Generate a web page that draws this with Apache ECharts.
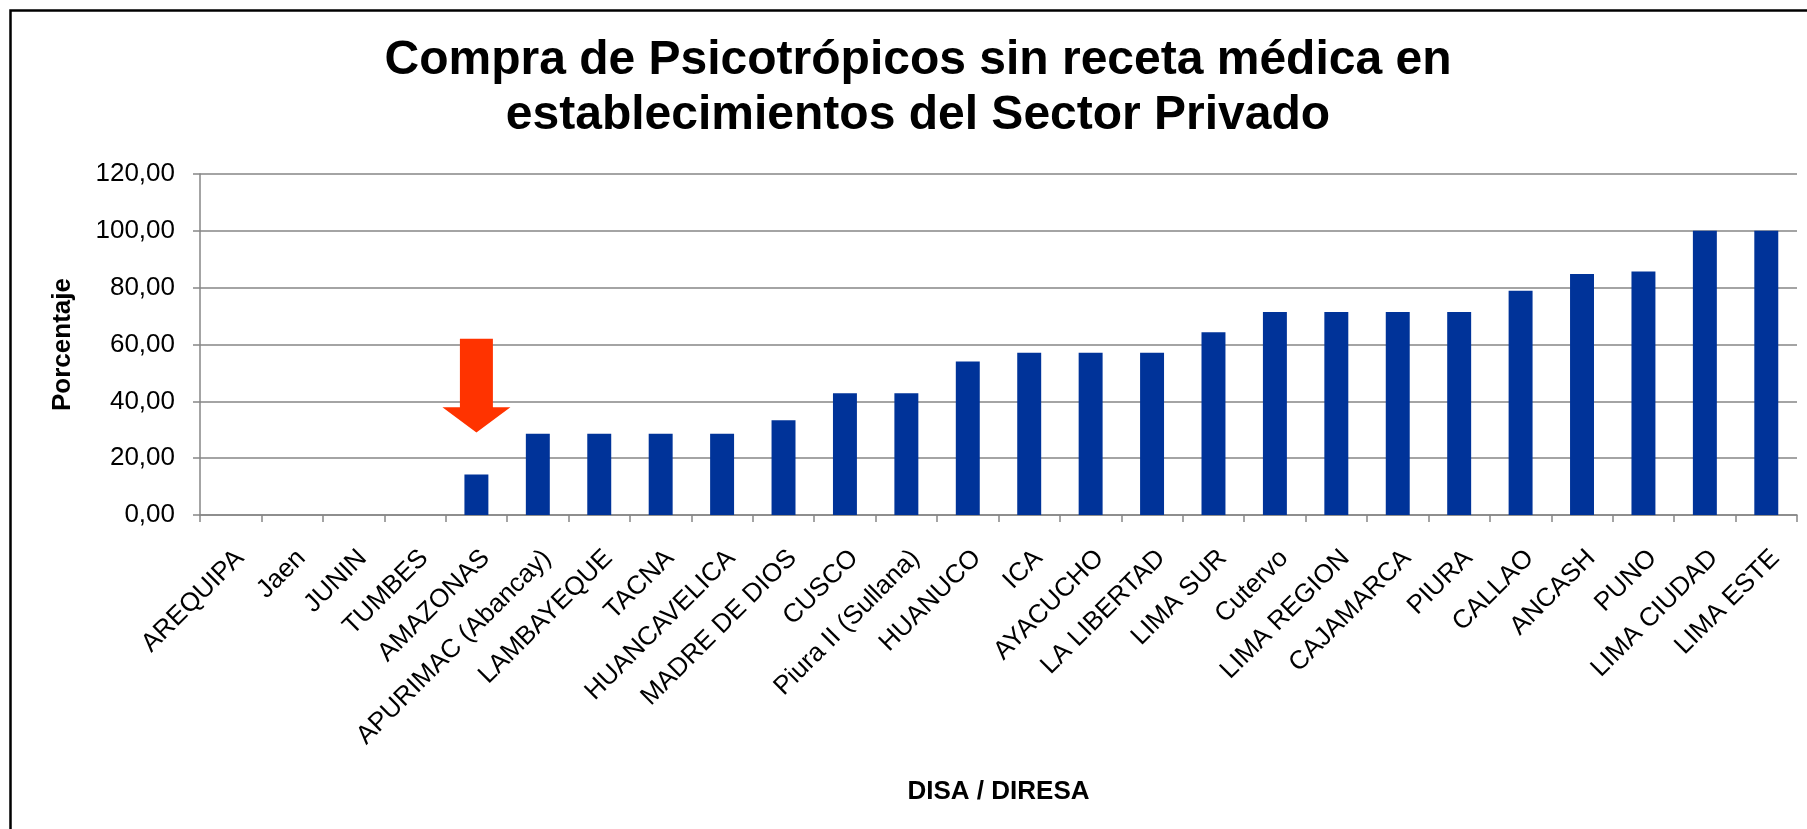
<!DOCTYPE html>
<html>
<head>
<meta charset="utf-8">
<title>Compra de Psicotrópicos sin receta médica</title>
<script src="https://cdn.jsdelivr.net/npm/echarts@6/dist/echarts.min.js"></script>
<style>
html, body { margin: 0; padding: 0; background: #fff; }
#chart { width: 1807px; height: 829px; }
</style>
</head>
<body>
<div id="chart"></div>
<script>
// categorias (DISA / DIRESA)
var regiones = ['AREQUIPA', 'Jaen', 'JUNIN', 'TUMBES', 'AMAZONAS', 'APURIMAC (Abancay)',
    'LAMBAYEQUE', 'TACNA', 'HUANCAVELICA', 'MADRE DE DIOS', 'CUSCO', 'Piura II (Sullana)',
    'HUANUCO', 'ICA', 'AYACUCHO', 'LA LIBERTAD', 'LIMA SUR', 'Cutervo', 'LIMA REGION',
    'CAJAMARCA', 'PIURA', 'CALLAO', 'ANCASH', 'PUNO', 'LIMA CIUDAD', 'LIMA ESTE']
// porcentaje de compra sin receta
var porcentajes = [0, 0, 0, 0, 14.29, 28.57,
    28.57, 28.57, 28.57, 33.33, 42.86, 42.86,
    54.05, 57.14, 57.14, 57.14, 64.29, 71.43, 71.43,
    71.43, 71.43, 78.95, 84.85, 85.71, 100, 100]
var ejeY = [0, 20, 40, 60, 80, 100, 120]
// flecha: categoria, valor superior, valor de la punta
var flecha = ['AMAZONAS', 62, 29]

var fuente = 'Liberation Sans, Arial, sans-serif'
var gris = '#868686'

var chart = echarts.init(document.getElementById('chart'))

var options = {
    backgroundColor: '#fff',
    animation: false,
    title: {
        text: 'Compra de Psicotrópicos sin receta médica en\nestablecimientos del Sector Privado',
        left: 918,
        top: 33,
        padding: 0,
        textAlign: 'center',
        textStyle: {
            fontFamily: fuente,
            fontSize: 48,
            fontWeight: 'bold',
            color: '#000',
            lineHeight: 55
        }
    },
    graphic: [{
        type: 'rect',
        shape: { x: 10.5, y: 10.5, width: 1900, height: 900 },
        style: { fill: 'none', stroke: '#000', lineWidth: 2.5 },
        silent: true
    }],
    grid: {
        left: 200,
        right: 10,
        top: 174,
        bottom: 314,
        outerBoundsMode: 'none'
    },
    xAxis: {
        type: 'category',
        data: regiones,
        name: 'DISA / DIRESA',
        nameLocation: 'middle',
        nameGap: 264,
        nameTextStyle: { fontFamily: fuente, fontSize: 26, fontWeight: 'bold', color: '#000' },
        axisLine: { show: true, lineStyle: { color: gris, width: 1.5 } },
        axisTick: { show: true, length: 7, lineStyle: { color: gris, width: 1.5 } },
        axisLabel: {
            interval: 0,
            rotate: 45,
            margin: 30,
            align: 'right',
            verticalAlign: 'top',
            fontFamily: fuente,
            fontSize: 26,
            color: '#000'
        },
        splitLine: { show: false }
    },
    yAxis: {
        type: 'value',
        min: ejeY[0],
        max: ejeY[ejeY.length - 1],
        interval: 20,
        name: 'Porcentaje',
        nameLocation: 'middle',
        nameGap: 124,
        nameTextStyle: { fontFamily: fuente, fontSize: 26, fontWeight: 'bold', color: '#000' },
        axisLine: { show: true, lineStyle: { color: gris, width: 1.5 } },
        axisTick: { show: true, length: 7, lineStyle: { color: gris, width: 1.5 } },
        axisLabel: {
            margin: 25,
            fontFamily: fuente,
            fontSize: 26,
            color: '#000',
            formatter: function (v) {
                return v.toFixed(2).replace('.', ',')
            }
        },
        splitLine: { show: true, lineStyle: { color: gris, width: 1.5 } }
    },
    series: [{
        type: 'bar',
        data: porcentajes,
        barWidth: '39%',
        itemStyle: { color: '#003399' }
    }, {
        // flecha roja sobre AMAZONAS
        type: 'custom',
        data: [[regiones.indexOf(flecha[0]), flecha[1], flecha[2]]],
        z: 5,
        renderItem: function (params, api) {
            var arriba = api.coord([api.value(0), api.value(1)])
            var punta = api.coord([api.value(0), api.value(2)])
            var ancho = api.size([1, 0])[0]
            var cabeza = ancho * 1.107 / 2
            var cuerpo = ancho * 0.537 / 2
            var alto = punta[1] - arriba[1]
            var inicio = punta[1] - alto * 0.27
            var x = arriba[0]
            return {
                type: 'polygon',
                shape: {
                    points: [
                        [x - cuerpo, arriba[1]], [x + cuerpo, arriba[1]],
                        [x + cuerpo, inicio], [x + cabeza, inicio],
                        [x, punta[1]],
                        [x - cabeza, inicio], [x - cuerpo, inicio]
                    ]
                },
                style: { fill: '#FF3300' }
            }
        }
    }]
}

chart.setOption(options)
window.onresize = function () {
    chart.resize()
}
</script>
</body>
</html>
